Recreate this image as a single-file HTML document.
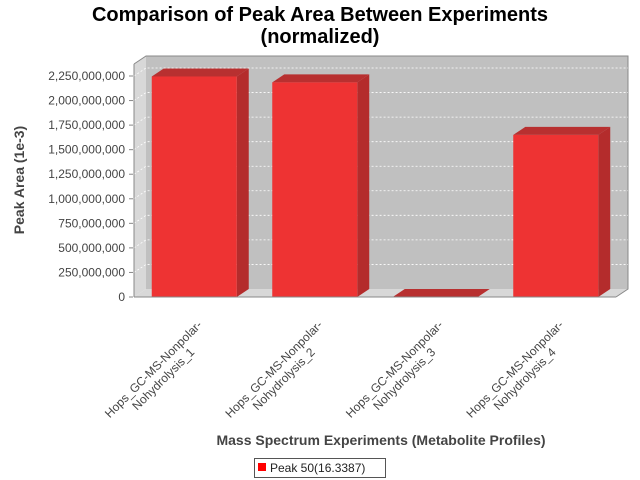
<!DOCTYPE html>
<html><head><meta charset="utf-8"><style>
body{margin:0;background:#fff}
svg{display:block;font-family:"Liberation Sans","DejaVu Sans",sans-serif}
</style></head><body>
<svg id="chart" width="640" height="480">
<text x="320" y="21" text-anchor="middle" font-size="20" font-weight="bold">Comparison of Peak Area Between Experiments</text>
<text x="320" y="43" text-anchor="middle" font-size="20" font-weight="bold">(normalized)</text>
<polygon points="134,64 146,56 146,289 134,297" fill="#d8d8d8"/>
<rect x="146" y="56" width="482" height="233" fill="#c0c0c0"/>
<polygon points="134,297 146,289 628,289 616,297" fill="#d8d8d8"/>
<polyline points="134,64 146,56 628,56 628,289 616,297" fill="none" stroke="#888"/>
<g id="grid"></g>
<g id="bars"></g>
<g id="yticks"></g>
<line x1="134" y1="64" x2="134" y2="297" stroke="#888"/>
<line x1="134" y1="297" x2="616" y2="297" stroke="#888"/>
<g id="xlabels"></g>
<text transform="translate(24,180) rotate(-90)" text-anchor="middle" font-size="14" font-weight="bold" fill="#444">Peak Area (1e-3)</text>
<text x="381" y="445" text-anchor="middle" font-size="14" font-weight="bold" fill="#444">Mass Spectrum Experiments (Metabolite Profiles)</text>
<g>
<rect x="254.5" y="458.5" width="131" height="19" fill="#fff" stroke="#555"/>
<rect x="258" y="463" width="8" height="8" fill="#ff0000"/>
<text x="270" y="472" font-size="12" fill="#222">Peak 50(16.3387)</text>
</g>
</svg>
<script>
const categories = ["Hops_GC-MS-Nonpolar-|Nohydrolysis_1","Hops_GC-MS-Nonpolar-|Nohydrolysis_2","Hops_GC-MS-Nonpolar-|Nohydrolysis_3","Hops_GC-MS-Nonpolar-|Nohydrolysis_4"];
const values = [2245000000, 2185000000, 0, 1650000000];
const yTicks = [0,250000000,500000000,750000000,1000000000,1250000000,1500000000,1750000000,2000000000,2250000000];

const NS="http://www.w3.org/2000/svg";
const DX=12, DY=8, X0=134, X1=616, Y0=297;
function y(v){return Y0 - v/2250000000*221;}
const bandW=(X1-X0)/categories.length;
function xc(i){return X0+bandW*(i+0.5);}
function mk(tag,attrs,parent){const e=document.createElementNS(NS,tag);for(const k in attrs)e.setAttribute(k,attrs[k]);parent.appendChild(e);return e;}
const grid=document.getElementById('grid'), ticks=document.getElementById('yticks'), bars=document.getElementById('bars'), xl=document.getElementById('xlabels');
yTicks.forEach((t,i)=>{
  const yy=y(t);
  if(t>0){
    const g=mk('polyline',{points:`${X0},${yy} ${X0+DX},${yy-DY} 628,${yy-DY}`,fill:'none',stroke:'#fff','stroke-dasharray':'2,2','stroke-width':'0.8'},grid);
    
    
  }
  const tk=mk('line',{x1:129,y1:yy,x2:133,y2:yy,stroke:'#888'},ticks);
  
  
  const tl=mk('text',{x:125,y:yy+4,'text-anchor':'end','font-size':12,fill:'#444'},ticks);
  tl.textContent=t.toLocaleString('en-US');
  
  
});
const bw=85;
values.forEach((v,i)=>{
  const l=xc(i)-bw/2, r=l+bw, top=y(v);
  const g=mk('g',{},bars);
  
  
  mk('polygon',{points:`${r},${top} ${r+DX},${top-DY} ${r+DX},${Y0-DY} ${r},${Y0}`,fill:'#b42c2c'},g);
  mk('polygon',{points:`${l},${top} ${l+DX},${top-DY} ${r+DX},${top-DY} ${r},${top}`,fill:'#b83030'},g);
  if(Y0-top>0.5) mk('rect',{x:l,y:top,width:bw,height:Y0-top,fill:'#ee3333'},g);
});
categories.forEach((c,i)=>{
  const [a,b]=c.split('|');
  const ax=xc(i)-38, ay=372;
  const t=mk('text',{transform:`translate(${ax},${ay}) rotate(-45)`,'text-anchor':'middle','font-size':12,fill:'#444'},xl);
  
  
  const s1=mk('tspan',{x:0,y:0},t); s1.textContent=a;
  const s2=mk('tspan',{x:0,y:14},t); s2.textContent=b;
});
</script>
</body></html>
